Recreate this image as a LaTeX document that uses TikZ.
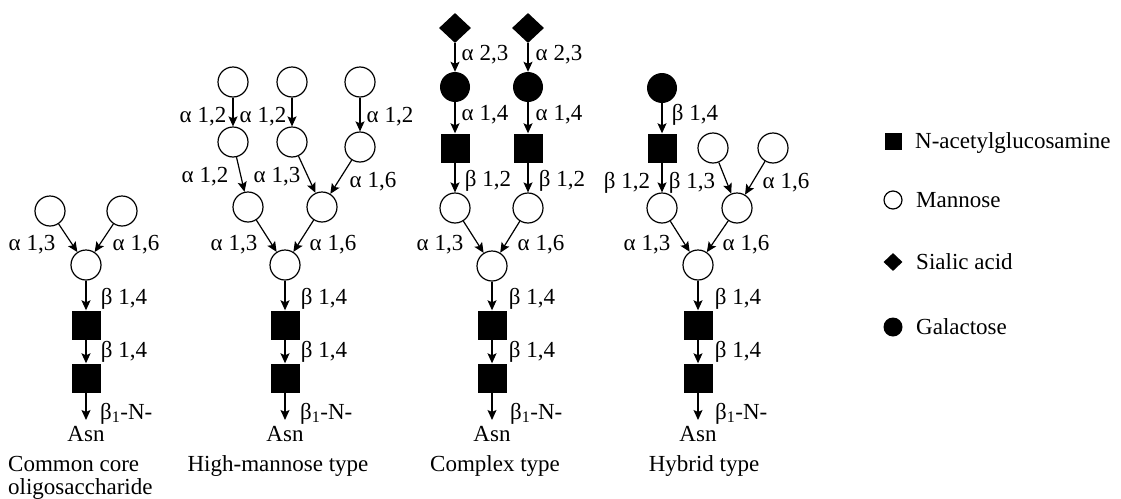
\documentclass[tikz,border=0pt]{standalone}
\usepackage{fontspec}
\setmainfont{Liberation Serif}
\usetikzlibrary{shapes.geometric,arrows.meta}
\begin{document}
\begin{tikzpicture}[x=1pt,y=-1pt,
  man/.style={circle, draw, line width=1.2pt, minimum size=30pt, inner sep=0pt},
  gal/.style={circle, fill=black, minimum size=30pt, inner sep=0pt},
  glc/.style={rectangle, fill=black, minimum size=29pt, inner sep=0pt},
  sia/.style={diamond, fill=black, minimum width=32pt, minimum height=30pt, inner sep=0pt},
  link/.style={line width=1.2pt, -{Stealth[length=10pt,width=9pt,inset=2pt]}},
  lbl/.style={inner sep=0pt, anchor=base, font=\fontsize{23}{27}\selectfont},
  lbw/.style={lbl, anchor=base west},
]
\useasboundingbox (0,0) rectangle (1121,498);

% ---------- common core ----------
\node[man] (a1) at (50,211) {};
\node[man] (a2) at (122,211) {};
\node[man] (a3) at (86,265) {};
\node[glc] (a4) at (86,325) {};
\node[glc] (a5) at (86,378) {};
\coordinate (a6) at (86,420);
\draw[link] (a1) -- (a3);
\draw[link] (a2) -- (a3);
\draw[link] (a3) -- (a4);
\draw[link] (a4) -- (a5);
\draw[link] (a5) -- (a6);
\node[lbl] (la1) at (32,250) {α 1,3};
\node[lbl] (la2) at (136,250) {α 1,6};
\node[lbl] (la3) at (124,304) {β 1,4};
\node[lbl] (la4) at (124,357) {β 1,4};
\node[lbw] (la5) at (100,419) {β\textsubscript{1}-N-};
\node[lbl] (la6) at (86,441) {Asn};
\node[lbw] (la7) at (8,471) {Common core};
\node[lbw] (la8) at (8,494) {oligosaccharide};

% ---------- high-mannose type ----------
\node[man] (b1) at (233,82) {};
\node[man] (b2) at (292,82) {};
\node[man] (b3) at (360,82) {};
\node[man] (b4) at (233,142) {};
\node[man] (b5) at (292,142) {};
\node[man] (b6) at (360,147) {};
\node[man] (b7) at (248,207) {};
\node[man] (b8) at (322,207) {};
\node[man] (b9) at (285,265) {};
\node[glc] (b10) at (285,325) {};
\node[glc] (b11) at (285,378) {};
\coordinate (b12) at (285,420);
\draw[link] (b1) -- (b4);
\draw[link] (b2) -- (b5);
\draw[link] (b3) -- (b6);
\draw[link] (b4) -- (b7);
\draw[link] (b5) -- (b8);
\draw[link] (b6) -- (b8);
\draw[link] (b7) -- (b9);
\draw[link] (b8) -- (b9);
\draw[link] (b9) -- (b10);
\draw[link] (b10) -- (b11);
\draw[link] (b11) -- (b12);
\node[lbl] (lb1) at (203,122) {α 1,2};
\node[lbl] (lb2) at (263,122) {α 1,2};
\node[lbl] (lb3) at (390,122) {α 1,2};
\node[lbl] (lb4) at (205,182) {α 1,2};
\node[lbl] (lb5) at (277,182) {α 1,3};
\node[lbl] (lb6) at (373,187) {α 1,6};
\node[lbl] (lb7) at (234,250) {α 1,3};
\node[lbl] (lb8) at (333,250) {α 1,6};
\node[lbl] (lb9) at (324,304) {β 1,4};
\node[lbl] (lb10) at (324,357) {β 1,4};
\node[lbw] (lb11) at (300,419) {β\textsubscript{1}-N-};
\node[lbl] (lb12) at (285,441) {Asn};
\node[lbl] (lb13) at (278,471) {High-mannose type};

% ---------- complex type ----------
\node[sia] (c1) at (455,28) {};
\node[sia] (c2) at (528,28) {};
\node[gal] (c3) at (455,87) {};
\node[gal] (c4) at (528,87) {};
\node[glc] (c5) at (455,148) {};
\node[glc] (c6) at (528,148) {};
\node[man] (c7) at (455,208) {};
\node[man] (c8) at (528,208) {};
\node[man] (c9) at (492,266) {};
\node[glc] (c10) at (492,325) {};
\node[glc] (c11) at (492,378) {};
\coordinate (c12) at (492,420);
\draw[link] (c1) -- (c3);
\draw[link] (c2) -- (c4);
\draw[link] (c3) -- (c5);
\draw[link] (c4) -- (c6);
\draw[link] (c5) -- (c7);
\draw[link] (c6) -- (c8);
\draw[link] (c7) -- (c9);
\draw[link] (c8) -- (c9);
\draw[link] (c9) -- (c10);
\draw[link] (c10) -- (c11);
\draw[link] (c11) -- (c12);
\node[lbl] (lc1) at (485,60) {α 2,3};
\node[lbl] (lc2) at (559,60) {α 2,3};
\node[lbl] (lc3) at (485,120) {α 1,4};
\node[lbl] (lc4) at (559,120) {α 1,4};
\node[lbl] (lc5) at (488,186) {β 1,2};
\node[lbl] (lc6) at (562,186) {β 1,2};
\node[lbl] (lc7) at (440,250) {α 1,3};
\node[lbl] (lc8) at (541,250) {α 1,6};
\node[lbl] (lc9) at (532,304) {β 1,4};
\node[lbl] (lc10) at (532,357) {β 1,4};
\node[lbw] (lc11) at (510,419) {β\textsubscript{1}-N-};
\node[lbl] (lc12) at (492,441) {Asn};
\node[lbl] (lc13) at (495,471) {Complex type};

% ---------- hybrid type ----------
\node[gal] (d1) at (662,88) {};
\node[glc] (d2) at (662,148) {};
\node[man] (d3) at (713,148) {};
\node[man] (d4) at (773,148) {};
\node[man] (d5) at (662,208) {};
\node[man] (d6) at (737,208) {};
\node[man] (d7) at (698,265) {};
\node[glc] (d8) at (698,325) {};
\node[glc] (d9) at (698,378) {};
\coordinate (d10) at (698,420);
\draw[link] (d1) -- (d2);
\draw[link] (d2) -- (d5);
\draw[link] (d3) -- (d6);
\draw[link] (d4) -- (d6);
\draw[link] (d5) -- (d7);
\draw[link] (d6) -- (d7);
\draw[link] (d7) -- (d8);
\draw[link] (d8) -- (d9);
\draw[link] (d9) -- (d10);
\node[lbl] (ld1) at (695,120) {β 1,4};
\node[lbl] (ld2) at (627,188) {β 1,2};
\node[lbl] (ld3) at (692,188) {β 1,3};
\node[lbl] (ld4) at (786,188) {α 1,6};
\node[lbl] (ld5) at (647,250) {α 1,3};
\node[lbl] (ld6) at (746,250) {α 1,6};
\node[lbl] (ld7) at (738,304) {β 1,4};
\node[lbl] (ld8) at (738,357) {β 1,4};
\node[lbw] (ld9) at (715,419) {β\textsubscript{1}-N-};
\node[lbl] (ld10) at (698,441) {Asn};
\node[lbl] (ld11) at (704,471) {Hybrid type};

% ---------- key ----------
\node[glc, minimum size=17pt] (k1) at (893,141) {};
\node[lbw] (kt1) at (915,148.5) {N-acetylglucosamine};
\node[man, minimum size=18pt] (k2) at (893,200) {};
\node[lbw] (kt2) at (916,207.5) {Mannose};
\node[sia, minimum width=19pt, minimum height=18pt] (k3) at (893,262) {};
\node[lbw] (kt3) at (916,269.5) {Sialic acid};
\node[gal, minimum size=19pt] (k4) at (893,327) {};
\node[lbw] (kt4) at (916,334.5) {Galactose};
\end{tikzpicture}
\end{document}
